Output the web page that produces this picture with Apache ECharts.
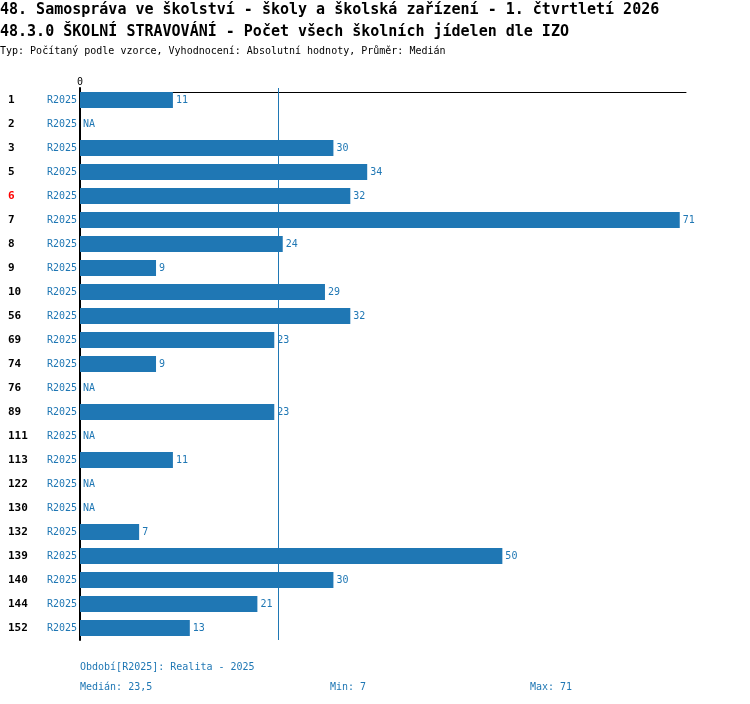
<!DOCTYPE html>
<html>
<head>
    <title>Školní stravování</title>
    <meta http-equiv="content-type" content="text/html; charset=utf-8">
    <script src="https://cdn.jsdelivr.net/npm/echarts@6/dist/echarts.min.js"></script>
    <style type="text/css">
    html, body { margin:0; padding:0; background:#fff; }
    #main { width:750px; height:704px; }
    </style>
</head>
<body>
    <div id="main"></div>
    <script type="text/javascript">
    // data (null = NA)
    var ids = ['1','2','3','5','6','7','8','9','10','56','69','74','76','89','111','113','122','130','132','139','140','144','152'];
    var values = [11, null, 30, 34, 32, 71, 24, 9, 29, 32, 23, 9, null, 23, null, 11, null, null, 7, 50, 30, 21, 13];
    var period = 'R2025';
    var highlightId = '6';
    var xTicks = [0];

    var blue = '#1f77b4';
    var mono = 'DejaVu Sans Mono';

    var known = values.filter(function (v) { return v != null; }).sort(function (a, b) { return a - b; });
    var n = known.length;
    var median = n % 2 ? known[(n - 1) / 2] : (known[n / 2 - 1] + known[n / 2]) / 2;
    var minV = known[0];
    var maxV = known[n - 1];

    var myChart = echarts.init(document.getElementById('main'));

    var barData = values.map(function (v) {
        return v == null ? { value: 0, na: true } : { value: v };
    });

    function txt(text, left, top, size, bold, color) {
        return { text: text, left: left, top: top, padding: 0,
                 textStyle: { fontFamily: mono, fontSize: size, fontWeight: bold ? 'bold' : 'normal', color: color } };
    }

    myChart.setOption({
        backgroundColor: '#fff',
        animation: false,
        title: [
            txt('48. Samospráva ve školství - školy a školská zařízení - 1. čtvrtletí 2026', 0, 3, 15, true, '#000'),
            txt('48.3.0 ŠKOLNÍ STRAVOVÁNÍ - Počet všech školních jídelen dle IZO', 0, 25, 15, true, '#000'),
            txt('Typ: Počítaný podle vzorce, Vyhodnocení: Absolutní hodnoty, Průměr: Medián', 0, 46, 10, false, '#000'),
            txt('Období[' + period + ']: Realita - 2025', 80, 662, 10, false, blue),
            txt('Medián: ' + String(median).replace('.', ','), 80, 682, 10, false, blue),
            txt('Min: ' + minV, 330, 682, 10, false, blue),
            txt('Max: ' + maxV, 530, 682, 10, false, blue)
        ],
        grid: { left: 80, right: 64, top: 88, bottom: 64 },
        xAxis: {
            type: 'value',
            position: 'top',
            offset: -4,
            min: 0,
            max: 71.74,
            interval: 100,
            axisLine: { show: true, lineStyle: { color: '#000', width: 1 } },
            axisTick: { show: false },
            splitLine: { show: false },
            axisLabel: {
                margin: 5,
                fontFamily: mono, fontSize: 10, color: '#000',
                showMaxLabel: false,
                formatter: function (v) { return xTicks.indexOf(v) >= 0 ? String(v) : ''; }
            }
        },
        yAxis: [
            {
                type: 'category',
                inverse: true,
                data: ids,
                axisLine: { show: true, onZero: false, lineStyle: { color: '#000', width: 2 } },
                axisTick: { show: false },
                axisLabel: {
                    margin: 3,
                    fontFamily: mono, fontSize: 10, color: blue,
                    formatter: function () { return period; }
                }
            },
            {
                type: 'category',
                inverse: true,
                position: 'left',
                data: ids,
                axisLine: { show: false },
                axisTick: { show: false },
                axisLabel: {
                    margin: 72,
                    align: 'left',
                    fontFamily: mono, fontSize: 11, fontWeight: 'bold', color: '#000',
                    formatter: function (v) { return v === highlightId ? '{hi|' + v + '}' : v; },
                    rich: { hi: { color: '#ff0000', fontFamily: mono, fontSize: 11, fontWeight: 'bold' } }
                }
            }
        ],
        series: [{
            type: 'bar',
            yAxisIndex: 0,
            barWidth: 16,
            itemStyle: { color: blue },
            label: {
                show: true,
                position: 'right',
                distance: 3,
                fontFamily: mono, fontSize: 10, color: blue,
                formatter: function (p) { return p.data.na ? 'NA' : p.value; }
            },
            data: barData,
            markLine: {
                silent: true,
                symbol: 'none',
                label: { show: false },
                lineStyle: { color: blue, width: 1, type: 'solid', opacity: 1 },
                emphasis: { disabled: true },
                data: [{ xAxis: median }]
            }
        }]
    });
    </script>
</body>
</html>
